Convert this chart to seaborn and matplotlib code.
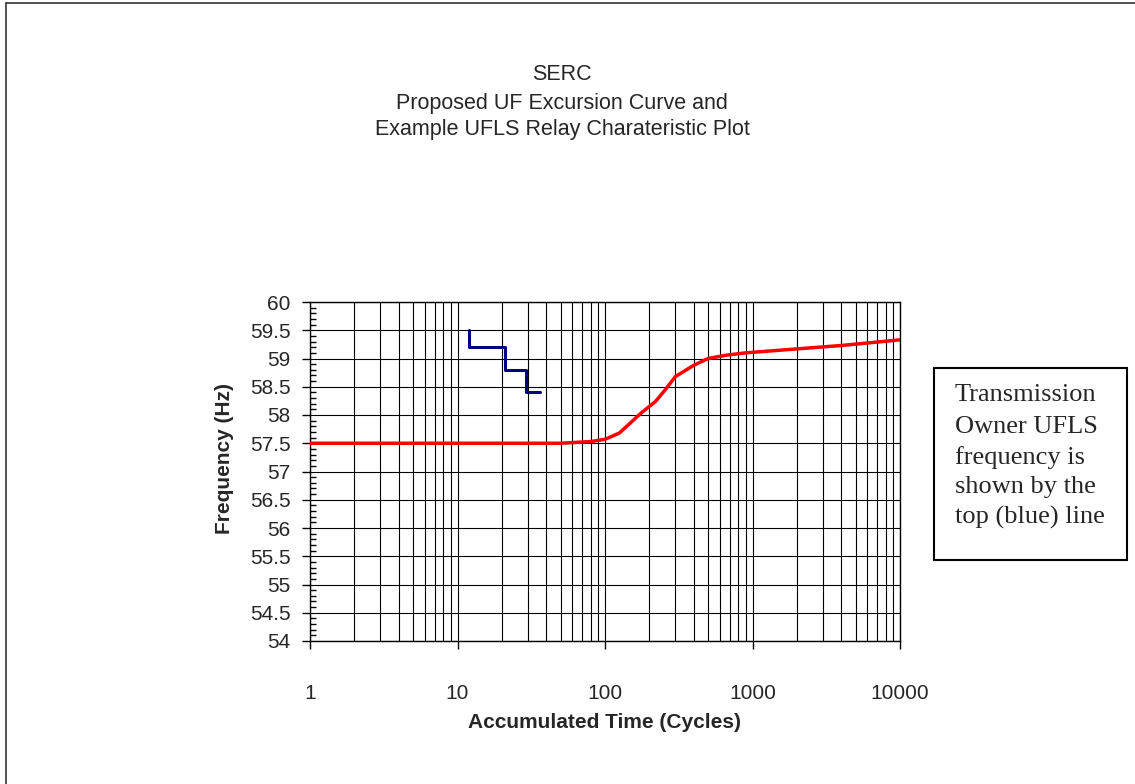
import matplotlib
matplotlib.use("Agg")
import matplotlib.pyplot as plt
import seaborn as sns
import pandas as pd
from matplotlib.lines import Line2D
from matplotlib.patches import Rectangle
from matplotlib.ticker import LogLocator, MultipleLocator, NullFormatter

# ---- data ----
curve_time = [1, 50, 80, 100, 125, 175, 220, 255, 300, 400, 500, 670, 900, 2000, 4000, 10000]
curve_freq = [57.5, 57.5, 57.53, 57.57, 57.68, 58.03, 58.24, 58.44, 58.68, 58.88, 59.0, 59.06, 59.10, 59.17, 59.23, 59.33]

relay_time = [12, 21, 29, 36]
relay_freq = [59.5, 59.2, 58.8, 58.4]

x_ticks = [1, 10, 100, 1000, 10000]
x_tick_labels = ["1", "10", "100", "1000", "10000"]
y_ticks = [54, 54.5, 55, 55.5, 56, 56.5, 57, 57.5, 58, 58.5, 59, 59.5, 60]
y_tick_labels = ["54", "54.5", "55", "55.5", "56", "56.5", "57", "57.5", "58", "58.5", "59", "59.5", "60"]

title_lines = ["SERC", "Proposed UF Excursion Curve and", "Example UFLS Relay Charateristic Plot"]
note_lines = ["Transmission", "Owner UFLS", "frequency is", "shown by the", "top (blue) line"]

curve_df = pd.DataFrame({"time": curve_time, "freq": curve_freq})
relay_df = pd.DataFrame({"time": relay_time, "freq": relay_freq})

# ---- style ----
sns.set_style("white")
plt.rcParams["font.family"] = ["Liberation Sans", "DejaVu Sans"]

W, H = 1135, 784
fig = plt.figure(figsize=(W / 100, H / 100), dpi=100)
fig.patch.set_facecolor("white")

ax = fig.add_axes([310 / W, 1 - 641 / H, 590 / W, 339 / H])
ax.set_xscale("log")

sns.lineplot(data=curve_df, x="time", y="freq", ax=ax, color="#ff0000",
             linewidth=2.5, estimator=None, sort=False, zorder=5)
sns.lineplot(data=relay_df, x="time", y="freq", ax=ax, color="#000080",
             linewidth=2.2, estimator=None, sort=False, drawstyle="steps-pre", zorder=6)

ax.set_xlim(1, 10000)
ax.set_ylim(54, 60)

ax.xaxis.set_major_locator(LogLocator(base=10, numticks=10))
ax.xaxis.set_minor_locator(LogLocator(base=10, subs=range(2, 10), numticks=50))
ax.xaxis.set_minor_formatter(NullFormatter())
ax.set_xticks(x_ticks)
ax.set_xticklabels(x_tick_labels)
ax.set_yticks(y_ticks)
ax.set_yticklabels(y_tick_labels)
ax.yaxis.set_minor_locator(MultipleLocator(0.1))

ax.grid(True, which="major", axis="both", color="black", linewidth=0.8)
ax.grid(True, which="minor", axis="x", color="black", linewidth=0.8)

for s in ax.spines.values():
    s.set_color("black")
    s.set_linewidth(1.0)

ax.tick_params(axis="y", which="major", direction="out", length=6, width=1, color="black",
               labelsize=15, pad=8, left=True)
ax.tick_params(axis="y", which="minor", direction="in", length=4, width=1, color="black", left=True)
ax.tick_params(axis="x", which="major", direction="out", length=6, width=1, color="black",
               labelsize=15, pad=25, bottom=True)
ax.tick_params(axis="x", which="minor", bottom=False)

ax.set_xlabel("Accumulated Time (Cycles)", fontsize=15, fontweight="bold", va="center")
ax.xaxis.set_label_coords(0.5, -(723 - 641) / 339)
ax.set_ylabel("Frequency (Hz)", fontsize=15, fontweight="bold", va="center")
ax.yaxis.set_label_coords(-(310 - 225) / 590, (641 - 458) / 339)

# title
for txt, yp in zip(title_lines, [75, 103, 130]):
    fig.text(562 / W, 1 - yp / H, txt, ha="center", va="center", fontsize=15.5)

# note box
fig.add_artist(Rectangle((934 / W, 1 - 560 / H), (1127 - 934) / W, (560 - 368) / H,
                         transform=fig.transFigure, fill=False, edgecolor="black", linewidth=1.5))
for txt, yp in zip(note_lines, [395, 427, 458, 487, 517]):
    fig.text(955 / W, 1 - yp / H, txt, ha="left", va="center", fontsize=19,
             family=["Liberation Serif", "DejaVu Serif"])

# outer frame (left and top edges visible)
fig.add_artist(Line2D([6 / W, 6 / W], [0, 1 - 3 / H], transform=fig.transFigure, color="#333333", lw=1.2))
fig.add_artist(Line2D([6 / W, 1], [1 - 3 / H, 1 - 3 / H], transform=fig.transFigure, color="#333333", lw=1.2))

fig.savefig("out.png", dpi=100, facecolor="white")
